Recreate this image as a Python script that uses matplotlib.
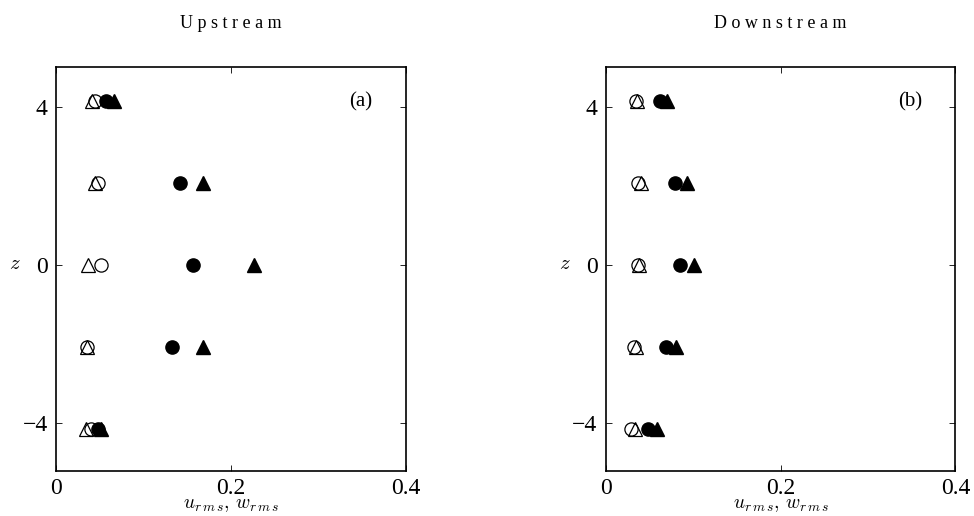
import matplotlib
matplotlib.use("Agg")
import matplotlib.pyplot as plt

plt.rcParams['font.family'] = 'serif'
plt.rcParams['font.serif'] = ['Liberation Serif', 'DejaVu Serif']
plt.rcParams['mathtext.fontset'] = 'cm'

z = [4.13, 2.07, 0.0, -2.07, -4.13]

# upstream: open circle, open triangle, filled circle, filled triangle
up_open_circ = [0.045, 0.048, 0.051, 0.035, 0.040]
up_open_tri = [0.041, 0.045, 0.037, 0.035, 0.034]
up_fill_circ = [0.057, 0.142, 0.157, 0.133, 0.048]
up_fill_tri = [0.066, 0.168, 0.226, 0.168, 0.051]

# downstream
dn_open_circ = [0.035, 0.037, 0.037, 0.032, 0.029]
dn_open_tri = [0.036, 0.040, 0.038, 0.035, 0.033]
dn_fill_circ = [0.062, 0.079, 0.085, 0.069, 0.048]
dn_fill_tri = [0.070, 0.093, 0.101, 0.080, 0.058]

titles = ['U p s t r e a m', 'D o w n s t r e a m']
tags = ['(a)', '(b)']
xticks = [0, 0.2, 0.4]
yticks = [-4, 0, 4]

fig = plt.figure(figsize=(9.74, 5.16), dpi=100)
ax1 = fig.add_axes([0.0575, 0.0872, 0.359, 0.783])
ax2 = fig.add_axes([0.622, 0.0872, 0.359, 0.783])

sets = [(up_open_circ, up_open_tri, up_fill_circ, up_fill_tri),
        (dn_open_circ, dn_open_tri, dn_fill_circ, dn_fill_tri)]

for i, ax in enumerate([ax1, ax2]):
    oc, ot, fc, ft = sets[i]
    ax.plot(oc, z, 'o', ms=9.5, mfc='white', mec='black', mew=0.9, ls='none')
    ax.plot(ot, z, '^', ms=9.5, mfc='none', mec='black', mew=0.9, ls='none')
    ax.plot(fc, z, 'o', ms=9.5, mfc='black', mec='black', ls='none')
    ax.plot(ft, z, '^', ms=9.5, mfc='black', mec='black', ls='none')
    ax.set_xlim(0, 0.4)
    ax.set_ylim(-5.2, 5.0)
    ax.set_xticks(xticks)
    ax.set_xticklabels(['0', '0.2', '0.4'])
    ax.set_yticks(yticks)
    ax.set_yticklabels(['\u22124', '0', '4'])
    ax.tick_params(direction='in', length=4, width=0.6, top=True, right=True,
                   labelsize=17)
    ax.tick_params(axis='x', pad=5)
    ax.tick_params(axis='y', pad=6)
    for s in ax.spines.values():
        s.set_linewidth(1.2)
    ax.set_xlabel(r'$u_{r\,m\,s},\, w_{r\,m\,s}$', fontsize=14, va='center')
    ax.xaxis.set_label_coords(0.5, -0.085)
    ax.set_ylabel(r'$z$', fontsize=15, rotation=0, va='center', ha='center')
    ax.yaxis.set_label_coords(-0.117, 0.51)
    ax.set_title(titles[i], fontsize=13, pad=28)
    ax.text(0.348, 4.13, tags[i], fontsize=15, ha='center', va='center')

fig.savefig('out.png', dpi=100)
